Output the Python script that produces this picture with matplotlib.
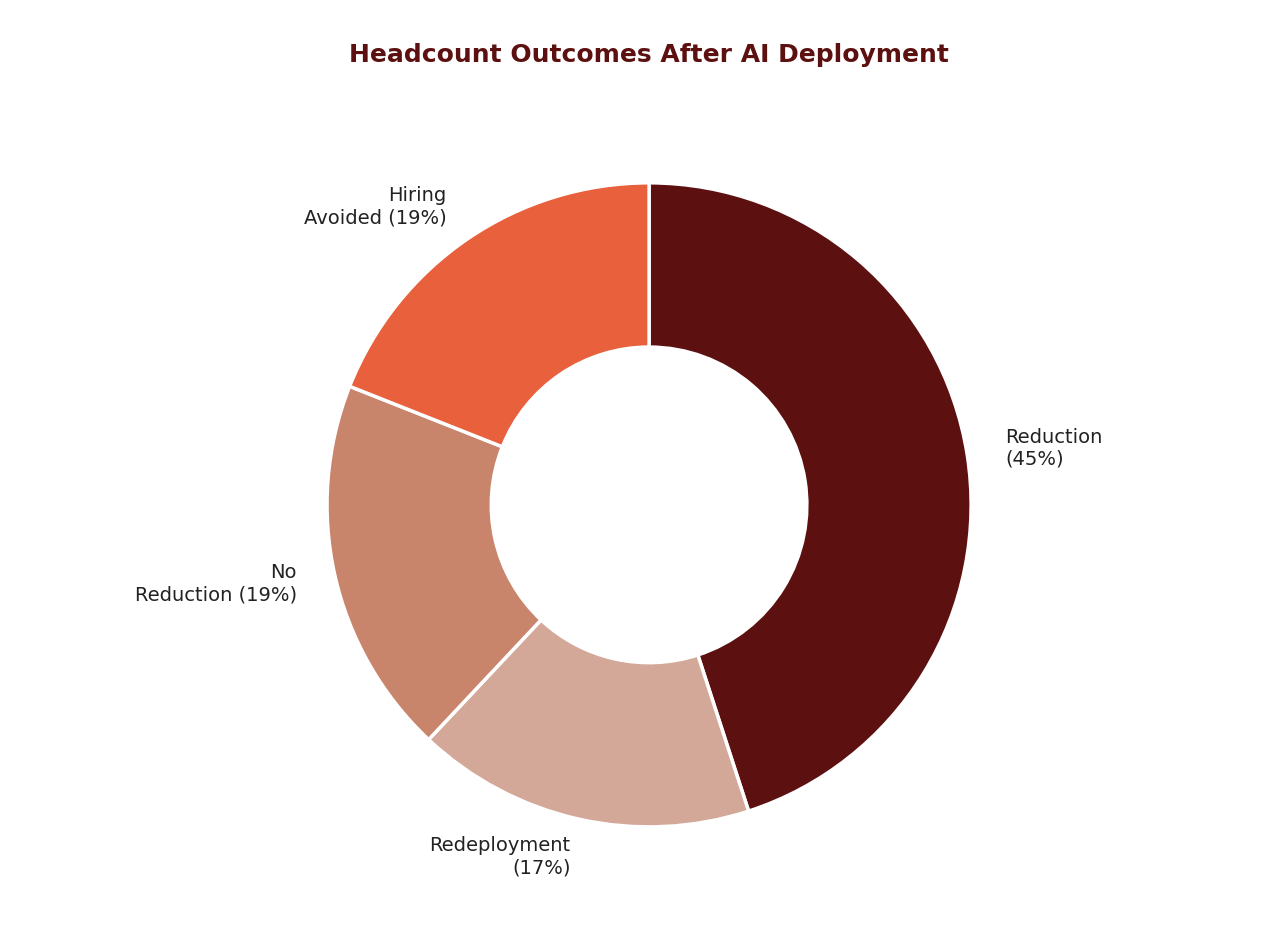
import matplotlib
matplotlib.use("Agg")
import matplotlib.pyplot as plt

# data
labels = ["Reduction\n(45%)", "Redeployment\n(17%)", "No\nReduction (19%)", "Hiring\nAvoided (19%)"]
values = [45, 17, 19, 19]
colors = ["#5C1010", "#D4A898", "#C9856C", "#E8603C"]

fig = plt.figure(figsize=(12.82, 9.32), dpi=100)
ax = fig.add_axes([0.1923, 0.0263, 0.628, 0.864])

wedges, texts = ax.pie(values, labels=labels, colors=colors, startangle=90,
                       counterclock=False, labeldistance=1.12,
                       wedgeprops=dict(width=0.51, edgecolor="white", linewidth=2.5),
                       textprops=dict(fontsize=14, color="#222222"))
ax.set_aspect("equal")

fig.text(0.506, 1 - 55 / 932, "Headcount Outcomes After AI Deployment",
         ha="center", va="center", fontsize=18, fontweight="bold", color="#5C1010")

plt.savefig("out.png", dpi=100)
